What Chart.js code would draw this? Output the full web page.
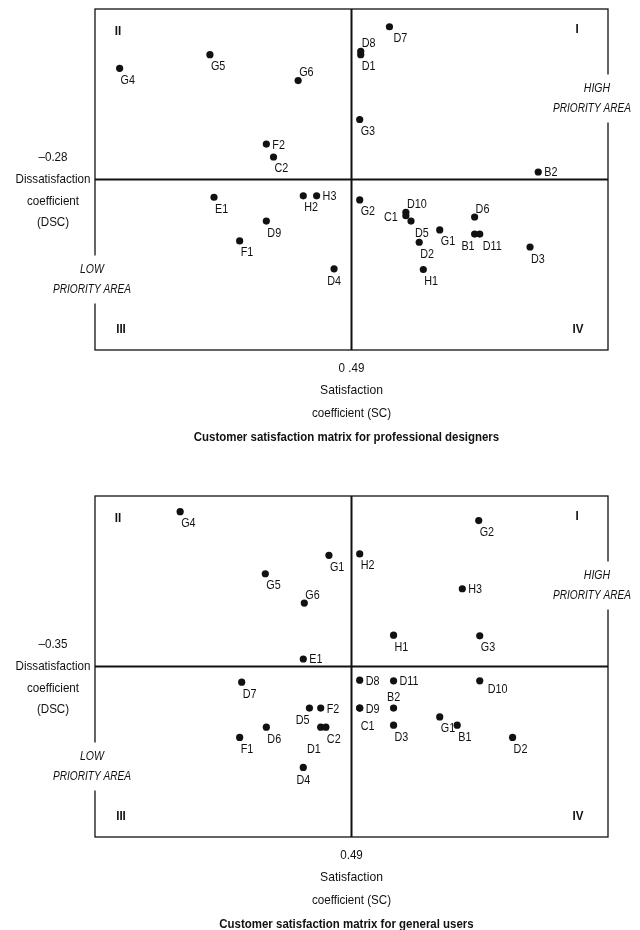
<!DOCTYPE html>
<html><head><meta charset="utf-8">
<script src="https://cdn.jsdelivr.net/npm/chart.js@4.4.0/dist/chart.umd.min.js"></script>
<style>
html,body{margin:0;padding:0;background:#fff;}
#wrap{position:relative;width:640px;height:930px;overflow:hidden;}
canvas{position:absolute;left:0;}
</style></head><body>
<div id="wrap">
<canvas id="c1" width="640" height="465" style="top:0"></canvas>
<canvas id="c2" width="640" height="465" style="top:465px"></canvas>
</div>
<script>
// ---------- DATA ----------
// Professional designers
const designerLabels = ['G4','G5','G6','F2','C2','D8','D1','D7','G3','B2','E1','H2','H3','D9','F1','D4','G2','D10','C1','D5','G1','D2','H1','D6','B1','D11','D3'];
const designerSC  = [0.264,0.352,0.438,0.407,0.414,0.499,0.499,0.527,0.498,0.672,0.356,0.443,0.456,0.407,0.381,0.473,0.498,0.543,0.543,0.548,0.576,0.556,0.560,0.610,0.610,0.615,0.664];
const designerDSC = [-0.117,-0.097,-0.135,-0.228,-0.247,-0.092,-0.097,-0.056,-0.192,-0.269,-0.306,-0.304,-0.304,-0.341,-0.370,-0.411,-0.310,-0.328,-0.333,-0.341,-0.354,-0.372,-0.412,-0.335,-0.360,-0.360,-0.379];

// General users
const userLabels = ['G4','G1','G5','G6','E1','H2','G2','H3','H1','G3','D7','D5','F2','D6','D1','C2','F1','D4','D8','D11','D10','D9','C1','B2','D3','G1','B1','D2'];
const userSC  = [0.323,0.468,0.406,0.444,0.443,0.498,0.614,0.598,0.531,0.615,0.383,0.449,0.460,0.407,0.460,0.465,0.381,0.443,0.498,0.531,0.615,0.498,0.498,0.531,0.531,0.576,0.593,0.647];
const userDSC = [-0.123,-0.187,-0.214,-0.257,-0.339,-0.185,-0.136,-0.236,-0.304,-0.305,-0.373,-0.411,-0.411,-0.439,-0.439,-0.439,-0.454,-0.498,-0.370,-0.371,-0.371,-0.411,-0.411,-0.411,-0.436,-0.424,-0.436,-0.454];

// Quadrant split values and their tick labels
const centerSC = [0.49, 0.49];
const centerDSC = [-0.28, -0.35];
const centerSCText = ['0 .49', '0.49'];
const centerDSCText = ['\u20130.28', '\u20130.35'];
const quadrantNames = ['I', 'II', 'III', 'IV'];
const yAxisTitle = ['Dissatisfaction', 'coefficient', '(DSC)'];
const xAxisTitle = ['Satisfaction', 'coefficient (SC)'];
const highArea = ['HIGH', 'PRIORITY AREA'];
const lowArea = ['LOW', 'PRIORITY AREA'];
const chartTitles = ['Customer satisfaction matrix for professional designers', 'Customer satisfaction matrix for general users'];

// ---------- STYLE (label placement, not data) ----------
const designerPlace = ['br','br','ar','r','br','ar','br','br7','br','r','br','br','r','br','br','b','br','ar','l','br4','br','br','br','ar','bl','br3','br'];
const userPlace     = ['br','br','br','ar','r','br','br','r','br','br','br','bl','r','br','bll','br','br','b','r','r','br8','r','brl','a','br','br','br','br'];

const FONT = '"Liberation Sans", Arial, sans-serif';
const SQ = 0.86;   // horizontal squeeze to mimic a condensed face
const INK = '#111';

function txt(ctx, s, x, y, sq) {
  const w = ctx.measureText(s).width;
  ctx.fillText(s, x, y, w * (sq || SQ));
}

function placeOf(code) {
  switch (code) {
    case 'br':  return {dx:1, dy:15.5, align:'left'};
    case 'br3': return {dx:3, dy:15.5, align:'left'};
    case 'br4': return {dx:4, dy:15.5, align:'left'};
    case 'br7': return {dx:4, dy:15, align:'left'};
    case 'br8': return {dx:8, dy:12, align:'left'};
    case 'brl': return {dx:1, dy:22, align:'left'};
    case 'bl':  return {dx:0, dy:16, align:'right'};
    case 'bll': return {dx:0, dy:26, align:'right'};
    case 'b':   return {dx:0, dy:16.5, align:'center'};
    case 'r':   return {dx:6, dy:4.5, align:'left'};
    case 'l':   return {dx:-8, dy:5, align:'right'};
    case 'ar':  return {dx:1, dy:-4.5, align:'left'};
    case 'a':   return {dx:0, dy:-7, align:'center'};
  }
  return {dx:1, dy:15.5, align:'left'};
}

function overlay(idx, labels, places) {
  return {
    id: 'overlay' + idx,
    beforeDatasetsDraw(chart) {
      const ctx = chart.ctx, a = chart.chartArea;
      const cx = chart.scales.x.getPixelForValue(centerSC[idx]);
      const cy = chart.scales.y.getPixelForValue(centerDSC[idx]);
      ctx.save();
      ctx.fillStyle = '#fff';
      ctx.fillRect(0, 0, chart.width, chart.height);
      ctx.strokeStyle = INK;
      ctx.lineWidth = 1.3;
      ctx.strokeRect(a.left, a.top, a.right - a.left, a.bottom - a.top);
      ctx.lineWidth = 2;
      ctx.beginPath();
      ctx.moveTo(cx, a.top); ctx.lineTo(cx, a.bottom);
      ctx.moveTo(a.left, cy); ctx.lineTo(a.right, cy);
      ctx.stroke();

      // gaps in the border for side notes
      ctx.fillStyle = '#fff';
      ctx.fillRect(a.left - 4, cy + 76, 8, 48);
      ctx.fillRect(a.right - 4, cy - 105, 8, 48);

      ctx.fillStyle = INK;
      ctx.textAlign = 'center';
      ctx.textBaseline = 'middle';
      ctx.font = 'italic 13.5px ' + FONT;
      txt(ctx, lowArea[0], a.left - 3, cy + 90, 0.78);
      txt(ctx, lowArea[1], a.left - 3, cy + 110, 0.75);
      txt(ctx, highArea[0], a.right - 11, cy - 91, 0.78);
      txt(ctx, highArea[1], a.right - 16, cy - 71, 0.75);

      ctx.font = '13.5px ' + FONT;
      txt(ctx, centerDSCText[idx], a.left - 42, cy - 22);
      txt(ctx, yAxisTitle[0], a.left - 42, cy);
      txt(ctx, yAxisTitle[1], a.left - 42, cy + 22);
      txt(ctx, yAxisTitle[2], a.left - 42, cy + 43);

      txt(ctx, centerSCText[idx], cx, a.bottom + 18);
      txt(ctx, xAxisTitle[0], cx, a.bottom + 40, 0.9);
      txt(ctx, xAxisTitle[1], cx, a.bottom + 63);
      ctx.font = 'bold 13.5px ' + FONT;
      txt(ctx, chartTitles[idx], cx - 5, a.bottom + 87, 0.85);

      txt(ctx, quadrantNames[0], a.right - 31, a.top + 20);
      txt(ctx, quadrantNames[1], a.left + 23, a.top + 22);
      txt(ctx, quadrantNames[2], a.left + 26, a.bottom - 21);
      txt(ctx, quadrantNames[3], a.right - 30, a.bottom - 21);
      ctx.restore();
    },
    afterDatasetsDraw(chart) {
      const ctx = chart.ctx;
      const meta = chart.getDatasetMeta(0);
      ctx.save();
      ctx.fillStyle = INK;
      ctx.font = '13.5px ' + FONT;
      ctx.textBaseline = 'alphabetic';
      meta.data.forEach((pt, i) => {
        const p = placeOf(places[i]);
        ctx.textAlign = p.align;
        txt(ctx, labels[i], pt.x + p.dx, pt.y + p.dy, 0.8);
      });
      ctx.restore();
    }
  };
}

function buildChart(canvasId, idx, labels, sc, dsc, places, padTop, padBottom) {
  const pts = sc.map((v, i) => ({x: v, y: dsc[i]}));
  return new Chart(document.getElementById(canvasId), {
    type: 'scatter',
    data: {datasets: [{data: pts, pointRadius: 3.6, pointHoverRadius: 3.6, backgroundColor: INK, borderColor: INK, borderWidth: 0, clip: false}]},
    options: {
      responsive: false, animation: false, events: [],
      layout: {padding: {left: 95, right: 32, top: padTop, bottom: padBottom}},
      scales: {
        x: {type: 'linear', min: centerSC[idx] - 0.25, max: centerSC[idx] + 0.25, display: false},
        y: {type: 'linear', min: centerDSC[idx] - 0.25, max: centerDSC[idx] + 0.25, display: false}
      },
      plugins: {legend: {display: false}, tooltip: {enabled: false}, title: {display: false}}
    },
    plugins: [overlay(idx, labels, places)]
  });
}

buildChart('c1', 0, designerLabels, designerSC, designerDSC, designerPlace, 9, 115);
buildChart('c2', 1, userLabels, userSC, userDSC, userPlace, 31, 93);
</script>
</body></html>
